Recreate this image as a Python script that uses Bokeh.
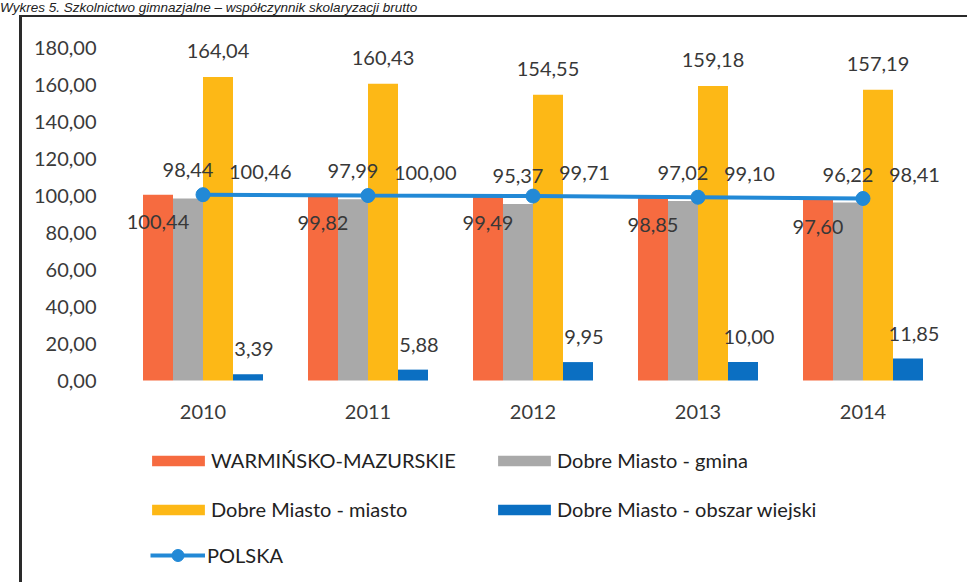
from bokeh.plotting import figure
from bokeh.models import (FactorRange, ColumnDataSource, FixedTicker, Legend, LegendItem,
                          Range1d, InlineStyleSheet, Div)
from bokeh.layouts import column
from bokeh.transform import dodge
from bokeh.core.properties import value
from bokeh.embed import file_html
from bokeh.resources import INLINE

# ---- data ----
years = ["2010", "2011", "2012", "2013", "2014"]
warminsko = [100.44, 99.82, 99.49, 98.85, 97.60]
gmina = [98.44, 97.99, 95.37, 97.02, 96.22]
miasto = [164.04, 160.43, 154.55, 159.18, 157.19]
wiejski = [3.39, 5.88, 9.95, 10.00, 11.85]
polska = [100.46, 100.00, 99.71, 99.10, 98.41]
y_ticks = [0, 20, 40, 60, 80, 100, 120, 140, 160, 180]
y_tick_labels = ["0,00", "20,00", "40,00", "60,00", "80,00", "100,00",
                 "120,00", "140,00", "160,00", "180,00"]
series_names = ["WARMIŃSKO-MAZURSKIE", "Dobre Miasto - gmina", "Dobre Miasto - miasto",
                "Dobre Miasto - obszar wiejski", "POLSKA"]
title_text = "Wykres 5. Szkolnictwo gimnazjalne – współczynnik skolaryzacji brutto"


def fmt(v):
    return f"{v:.2f}".replace(".", ",")


src = ColumnDataSource(dict(
    year=years, w=warminsko, g=gmina, m=miasto, o=wiejski, p=polska,
    wl=[fmt(v) for v in warminsko], gl=[fmt(v) for v in gmina],
    ml=[fmt(v) for v in miasto], ol=[fmt(v) for v in wiejski],
    pl=[fmt(v) for v in polska],
))

FONT = "Lato"
FS = "20px"
C_RED = "#F66B40"
C_GRAY = "#A9A9A9"
C_YEL = "#FDB816"
C_BLUE = "#0B6FC2"
C_LINE = "#2289D6"

caption = Div(text=title_text, width=959, height=15,
              styles={"font-family": "Liberation Sans", "font-style": "italic",
                      "font-size": "13.5px", "line-height": "15px", "color": "#222222",
                      "white-space": "nowrap", "margin": "0"})

# figure starts at page y=15; frame spans page x 120..945, y 36..574
PX_PER_UNIT = 344 / 186
y_low = -(574 - 380) / PX_PER_UNIT
p = figure(x_range=FactorRange(*years), y_range=Range1d(y_low, 186),
           width=959, height=559, output_backend="svg", toolbar_location=None,
           x_axis_location=None,
           min_border_left=120, min_border_right=14, min_border_top=21,
           min_border_bottom=0)
p.outline_line_color = None
p.xgrid.grid_line_color = None
p.ygrid.grid_line_color = None
p.stylesheets = [InlineStyleSheet(css="""
:host::after { content: ""; position: absolute; left: 19px; top: 0px; right: -40px; bottom: -40px;
  border-left: 3px solid #2a2a2a; border-top: 2px solid #2a2a2a; pointer-events: none; }
""")]

bw = 30 / 165
offs = [-1.5 * bw, -0.5 * bw, 0.5 * bw, 1.5 * bw]
cols = ["w", "g", "m", "o"]
colors = [C_RED, C_GRAY, C_YEL, C_BLUE]
bars = []
for off, c, col in zip(offs, cols, colors):
    r = p.vbar(x=dodge("year", off, range=p.x_range), top=c, width=bw, source=src,
               fill_color=col, line_color=None)
    bars.append(r)

ln = p.line(x="year", y="p", source=src, line_color=C_LINE, line_width=4)
mk = p.scatter(x="year", y="p", source=src, size=14, fill_color=C_LINE, line_color=C_LINE)

lab_kw = dict(source=src, text_font=value(FONT), text_font_size=FS,
              text_color="#383838", text_baseline="middle")
p.text(x=dodge("year", offs[0], range=p.x_range), y="w", text="wl", text_align="center",
       y_offset=27, **lab_kw)
p.text(x=dodge("year", offs[1], range=p.x_range), y="g", text="gl", text_align="center",
       y_offset=-28, **lab_kw)
p.text(x=dodge("year", offs[2], range=p.x_range), y="m", text="ml", text_align="center",
       y_offset=-26, **lab_kw)
p.text(x=dodge("year", offs[3], range=p.x_range), y="o", text="ol", text_align="center",
       x_offset=6, y_offset=-25, **lab_kw)
p.text(x="year", y="p", text="pl", text_align="left", x_offset=26, y_offset=-23, **lab_kw)

# category labels (x axis)
p.text(x="year", y=0, text="year", source=src, text_align="center", text_baseline="middle",
       y_offset=31, text_font=value(FONT), text_font_size=FS, text_color="#3a3a3a")

# y axis
p.yaxis.ticker = FixedTicker(ticks=y_ticks)
p.yaxis.major_label_overrides = {t: l for t, l in zip(y_ticks, y_tick_labels)}
ax = p.yaxis[0]
ax.axis_line_color = None
ax.major_tick_line_color = None
ax.minor_tick_line_color = None
ax.major_label_text_font = FONT
ax.major_label_text_font_size = FS
ax.major_label_text_color = "#3a3a3a"
ax.major_label_standoff = 18

# legends (inside the frame, below the bars)
leg1 = Legend(items=[LegendItem(label=series_names[i], renderers=[bars[i]]) for i in range(4)],
              orientation="horizontal", ncols=2, location=(25, 53),
              glyph_width=66, glyph_height=13, label_height=20, label_width=255,
              label_standoff=0, spacing=25, padding=0, margin=0,
              border_line_color=None, background_fill_alpha=0,
              label_text_font=FONT, label_text_font_size="20px", label_text_color="#222222")
leg2 = Legend(items=[LegendItem(label=series_names[4], renderers=[ln, mk])],
              location=(30, 4), glyph_width=55, glyph_height=30, label_height=30,
              label_standoff=2, padding=0, margin=0,
              border_line_color=None, background_fill_alpha=0,
              label_text_font=FONT, label_text_font_size="20px", label_text_color="#222222")
p.add_layout(leg1)
p.add_layout(leg2)

layout = column(caption, p, spacing=0)
open("out.html", "w").write(file_html(layout, INLINE))
